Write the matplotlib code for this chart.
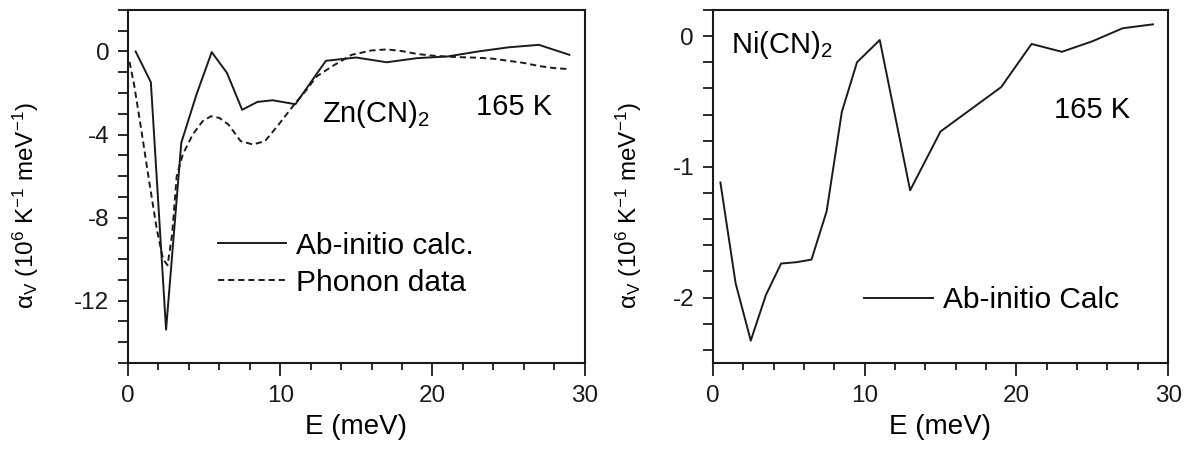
import numpy as np
import matplotlib.pyplot as plt
from matplotlib.ticker import MultipleLocator

plt.rcParams['font.family'] = ['Liberation Sans', 'DejaVu Sans']
plt.rcParams['mathtext.fontset'] = 'custom'
plt.rcParams['mathtext.rm'] = 'Liberation Sans'
plt.rcParams['mathtext.it'] = 'Liberation Sans:italic'
plt.rcParams['axes.unicode_minus'] = False

# Zn(CN)2, ab-initio calc.
zn_E = [0.5, 1.5, 2.5, 3.5, 4.5, 5.5, 6.5, 7.5, 8.5, 9.5, 11, 13, 15, 17, 19, 21, 23, 25, 27, 29]
zn_calc = [0.0, -1.48, -13.4, -4.4, -2.07, -0.03, -1.03, -2.81, -2.43, -2.35, -2.54, -0.45,
           -0.29, -0.52, -0.32, -0.24, 0.0, 0.2, 0.32, -0.16]

# Zn(CN)2, phonon data
zn_ph_E = [0.1, 0.4, 0.9, 1.4, 1.9, 2.3, 2.6, 2.9, 3.2, 3.6, 4.25, 4.9, 5.45, 6.0, 6.6, 7.4, 8.2,
           9.0, 9.9, 11.0, 11.65, 12.4, 13.4, 14.7, 16, 17, 18, 19, 20, 21, 22, 23, 24, 25, 26,
           27, 28, 29]
zn_ph = [-0.5, -1.6, -3.9, -6.3, -8.6, -10.0, -10.3, -8.8, -6.0, -4.96, -4.0, -3.36, -3.12, -3.2,
         -3.52, -4.32, -4.48, -4.32, -3.52, -2.48, -1.92, -1.2, -0.72, -0.16, 0.05, 0.1, 0.02,
         -0.12, -0.2, -0.25, -0.28, -0.3, -0.35, -0.45, -0.55, -0.7, -0.8, -0.85]

# Ni(CN)2, ab-initio calc.
ni_E = [0.5, 1.5, 2.5, 3.5, 4.5, 5.5, 6.5, 7.5, 8.5, 9.5, 11, 13, 15, 17, 19, 21, 23, 25, 27, 29]
ni_calc = [-1.12, -1.89, -2.33, -1.98, -1.74, -1.73, -1.71, -1.34, -0.58, -0.2, -0.03, -1.18,
           -0.73, -0.56, -0.39, -0.06, -0.12, -0.04, 0.06, 0.09]

ylab = r'α$_\mathrm{V}$ (10$^\mathrm{6}$ K$^\mathrm{-1}$ meV$^\mathrm{-1}$)'
col = '#1a1a1a'

fig = plt.figure(figsize=(11.92, 4.53), dpi=100)
ax1 = fig.add_axes([0.1074, 0.199, 0.383, 0.779])
ax2 = fig.add_axes([0.598, 0.199, 0.382, 0.779])

ax1.plot(zn_E, zn_calc, color=col, lw=1.4, label='Ab-initio calc.')
ax1.plot(zn_ph_E, zn_ph, color=col, lw=1.4, dashes=(3.2, 2.0), label='Phonon data')
ax1.set_xlim(0, 30)
ax1.set_ylim(-15, 2)
ax1.yaxis.set_major_locator(MultipleLocator(4))
ax1.yaxis.set_minor_locator(MultipleLocator(1))
ax1.text(0.424, 0.683, r'Zn(CN)$_\mathrm{2}$', transform=ax1.transAxes, fontsize=21, va='baseline')
ax1.text(0.763, 0.703, '165 K', transform=ax1.transAxes, fontsize=21, va='baseline')
ax1.legend(frameon=False, loc='center left', bbox_to_anchor=(0.196, 0.28), fontsize=21.5,
           handlelength=2.3, handletextpad=0.33, labelspacing=0.3, borderpad=0, borderaxespad=0)

ax2.plot(ni_E, ni_calc, color=col, lw=1.4, label='Ab-initio Calc')
ax2.set_xlim(0, 30)
ax2.set_ylim(-2.5, 0.2)
ax2.yaxis.set_major_locator(MultipleLocator(1))
ax2.yaxis.set_minor_locator(MultipleLocator(0.2))
ax2.text(0.039, 0.878, r'Ni(CN)$_\mathrm{2}$', transform=ax2.transAxes, fontsize=21, va='baseline')
ax2.text(0.75, 0.694, '165 K', transform=ax2.transAxes, fontsize=21, va='baseline')
ax2.legend(frameon=False, loc='center left', bbox_to_anchor=(0.333, 0.178), fontsize=21.5,
           handlelength=2.3, handletextpad=0.33, borderpad=0, borderaxespad=0)

for ax in (ax1, ax2):
    ax.xaxis.set_major_locator(MultipleLocator(10))
    ax.xaxis.set_minor_locator(MultipleLocator(2))
    ax.tick_params(which='both', direction='out', labelsize=17.5, width=1.3, colors=col)
    ax.tick_params(axis='x', which='major', length=9.4, pad=6.5)
    ax.tick_params(axis='x', which='minor', length=5)
    ax.tick_params(axis='y', which='both', length=7.5, pad=6)
    for s in ax.spines.values():
        s.set_linewidth(1.5)
        s.set_color(col)
    ax.set_xlabel('E (meV)', fontsize=20)
    ax.set_ylabel(ylab, fontsize=17.5)
    ax.xaxis.set_label_coords(0.5, -0.144)

ax1.yaxis.set_label_coords(-0.19, 0.447)
ax2.yaxis.set_label_coords(-0.152, 0.447)

fig.savefig('out.png', dpi=100)
